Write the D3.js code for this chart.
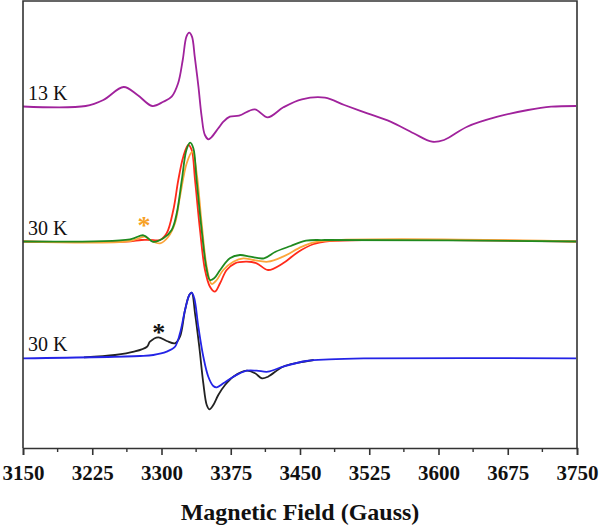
<!DOCTYPE html>
<html><head><meta charset="utf-8">
<script src="https://cdn.jsdelivr.net/npm/d3@7"></script>
<style>body{margin:0;background:#fff;}svg{display:block;}</style>
</head><body>
<svg id="c" width="600" height="528"></svg>
<script>
// ---- data (field in Gauss, intensity in arbitrary units relative to each trace's baseline)
const xTicks = [3150,3225,3300,3375,3450,3525,3600,3675,3750];
const minorTicks = [3187.5,3262.5,3337.5,3412.5,3487.5,3562.5,3637.5,3712.5];

const k13Field = [3150,3218,3237,3259,3274,3290,3302,3311,3318,3323,3327,3330,3333,3336,3340,3343.5,3347,3351,3354,3361.5,3367,3374,3384,3401,3415,3432,3452,3477,3498,3523,3548,3573,3593,3606,3631,3664,3697,3722,3749];
const k13Int   = [0,0.5,6.5,19.5,11.5,0.5,4.8,9.8,23.2,46.5,69.8,73.8,69.8,49.8,19.8,-10.2,-28.5,-32.8,-30.8,-21.8,-15.2,-10.2,-9.2,-2.8,-10.8,-0.8,7.2,8.8,1.5,-6.8,-15.2,-26.8,-35.2,-33.5,-20.2,-10.2,-3.5,-0.2,0.5];

const greenField = [3150,3266,3280.5,3291,3302,3311,3316.5,3322,3327,3331,3334.5,3338,3343.5,3349,3352.5,3357,3363.5,3374,3385,3396,3411,3423.5,3440,3456.5,3477,3749];
const greenInt   = [0,2.2,6.2,-0.3,3.2,11.5,28.2,61.5,91.5,98.8,93.2,61.5,11.5,-28.5,-38.5,-36.8,-28.5,-16.8,-13.5,-15.2,-16.8,-10.2,-4.5,0.8,1.5,0];

const redField = [3150,3261.6,3278.4,3287.5,3298.4,3305.6,3312.8,3318.2,3323.6,3329,3332.7,3336.3,3341.7,3347.1,3352.5,3357.9,3363.4,3370.6,3379.6,3392.3,3403.1,3415.3,3431.6,3448.4,3464.9,3477,3749];
const redInt   = [0,-0.2,1.5,1.5,1.5,8.2,31.5,61.5,84.8,96.5,91.5,61.5,11.5,-28.5,-45.2,-50.2,-41.8,-28.5,-21.8,-20.2,-21.8,-28.5,-21.8,-10.2,-2.5,0,0];

const orangeField = [3150,3266,3282,3287.5,3298.4,3307.4,3314.6,3320,3327.3,3333.4,3338.1,3343.5,3349,3354.4,3359.8,3366.9,3377.8,3388.6,3399.4,3415.3,3431.6,3452.2,3469,3749];
const orangeInt   = [0,0.5,4.8,1.5,-1.8,4.8,18.2,44.8,78.2,89.8,68.2,18.2,-25.2,-42.5,-38.5,-28.5,-20.2,-16.8,-18.5,-20.2,-15.2,-5.2,-0.2,0];

const blueField = [3150,3276.7,3291.1,3305.6,3314.6,3320,3325.5,3330.1,3332.7,3335.5,3339.9,3345.3,3350.7,3356.1,3359.8,3366.9,3377.8,3392.3,3403.1,3415.3,3431.6,3456.5,3481.4,3519,3749];
const blueInt   = [-0.3,2,3,6.3,11.3,24.7,48,63,65.3,59.7,31.3,1.3,-18.7,-28,-29.3,-25.3,-18.7,-12.7,-12.7,-13.7,-8.7,-3,-1.3,-0.3,-0.3];

const blackField = [3216,3249.6,3270.2,3284.3,3287.5,3296.5,3305.6,3314.6,3320,3325.5,3330.1,3332.7,3336.3,3340.9,3345.3,3349,3351.8,3356.1,3361.5,3368.8,3377.8,3392.3,3401.3,3408.8,3415.3,3431.6,3448.4,3465];
const blackInt   = [0.7,3,6.3,11.3,16.3,20.7,17,14.7,21.3,48,63,65.3,44.7,11.3,-25.3,-47,-51.3,-47,-37,-27,-18.7,-12.7,-15.3,-20.3,-18.7,-8.7,-4.7,-2];

const traceLabels = ["13 K","30 K","30 K"];
const offsets = [341.5, 206.5, 90];   // vertical stacking offsets of the three groups
const stars = [{field:3281, val:19.8, group:1, color:"#f7a125"},{field:3297, val:28.7, group:2, color:"#111"}];

// ---- drawing
const svg = d3.select("#c");
const L=23, R=577, T=1, B=448;
const x = d3.scaleLinear().domain([3150,3750]).range([L,R]);
const y = d3.scaleLinear().domain([0,447]).range([B,T]);
const serif = "'Liberation Serif','Times New Roman',serif";

const line = (off) => d3.line().x(d=>x(d[0])).y(d=>y(d[1]+off)).curve(d3.curveCatmullRom.alpha(0.5));
const zip = (a,b)=>a.map((v,i)=>[v,b[i]]);

const series = [
  {f:k13Field, v:k13Int, g:0, c:"#a0229c"},
  {f:redField, v:redInt, g:1, c:"#ff2a1a"},
  {f:orangeField, v:orangeInt, g:1, c:"#fba53a"},
  {f:greenField, v:greenInt, g:1, c:"#1f8a1f"},
  {f:blackField, v:blackInt, g:2, c:"#222"},
  {f:blueField, v:blueInt, g:2, c:"#2424e6"}
];
series.forEach(s=>{
  svg.append("path").datum(zip(s.f,s.v))
    .attr("fill","none").attr("stroke",s.c).attr("stroke-width",1.8)
    .attr("d", line(offsets[s.g]));
});

// frame
svg.append("path").attr("d",`M${L},${B}V${T}H${R}V${B}`)
  .attr("fill","none").attr("stroke","#333").attr("stroke-width",1.6);

// x axis
const ax = svg.append("g").attr("transform",`translate(0,${B})`)
  .call(d3.axisBottom(x).tickValues(xTicks).tickSize(7).tickFormat(d3.format("d")));
ax.select(".domain").attr("stroke","#333").attr("stroke-width",1.6);
ax.selectAll(".tick line").attr("stroke","#333").attr("stroke-width",1.6);
ax.selectAll(".tick text").attr("font-family",serif)
  .attr("font-size",21).attr("font-weight","bold").attr("fill","#111").attr("dy","0.9em").attr("y",13);
svg.append("g").selectAll("line").data(minorTicks).join("line")
  .attr("x1",d=>x(d)).attr("x2",d=>x(d)).attr("y1",B).attr("y2",B+4)
  .attr("stroke","#333").attr("stroke-width",1.4);

svg.append("text").attr("x",(L+R)/2).attr("y",520)
  .attr("text-anchor","middle").attr("font-family",serif)
  .attr("font-size",24).attr("font-weight","bold").attr("fill","#111")
  .text("Magnetic Field (Gauss)");

// trace labels
traceLabels.forEach((t,i)=>{
  svg.append("text").attr("x",x(3150)+5).attr("y",y(offsets[i])-7)
    .attr("font-family",serif)
    .attr("font-size",20).attr("fill","#111").text(t);
});

// asterisks
stars.forEach(s=>{
  svg.append("text").attr("x",x(s.field)).attr("y",y(offsets[s.group]+s.val)+12)
    .attr("text-anchor","middle").attr("font-family",serif)
    .attr("font-size",26).attr("font-weight","bold").attr("fill",s.color).text("*");
});
</script>
</body></html>
